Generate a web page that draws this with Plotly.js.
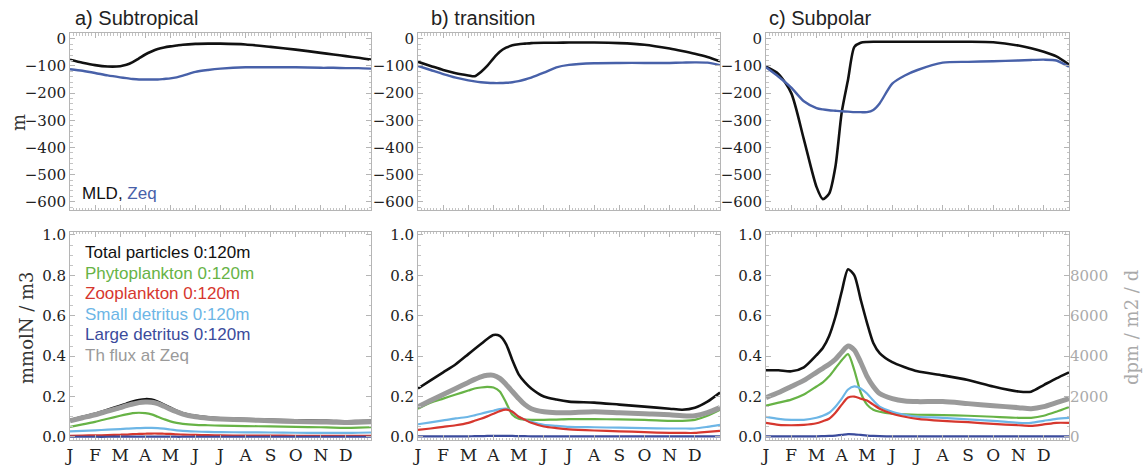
<!DOCTYPE html>
<html>
<head>
<meta charset="utf-8">
<script src="https://cdn.plot.ly/plotly-3.0.1.min.js"></script>
<style>html,body{margin:0;padding:0;background:#fff;}#chart{width:1143px;height:470px;}</style>
</head>
<body>
<div id="chart"></div>
<script>
// month positions (0 = 1 Jan, 12 = end of Dec)
const months = [0,0.5,1,1.5,2,2.25,2.5,2.75,3,3.25,3.5,3.75,4,4.25,4.5,5,5.5,6,7,8,9,10,10.5,11,11.5,12];
const monthTickVals = [0,1,2,3,4,5,6,7,8,9,10,11];
const monthLabels = ["J","F","M","A","M","J","J","A","S","O","N","D"];
const depthTicks = [0,-100,-200,-300,-400,-500,-600];
const concTicks = [0,0.2,0.4,0.6,0.8,1.0];
const fluxTicks = [0,2000,4000,6000,8000];
const panelTitles = ["a) Subtropical","b) transition","c) Subpolar"];
const legendLabels = ["Total particles 0:120m","Phytoplankton 0:120m","Zooplankton 0:120m","Small detritus 0:120m","Large detritus 0:120m","Th flux at Zeq"];

// a) Subtropical
const mldA = [-77,-88,-97,-102,-101,-96,-86,-72,-58,-47,-38,-32,-28,-25,-22,-19,-18,-18,-21,-30,-40,-52,-58,-64,-70,-77];
const zeqA = [-112,-118,-126,-135,-142,-145,-148,-150,-150,-150,-150,-148,-146,-142,-136,-122,-115,-110,-105,-105,-105,-107,-107,-108,-108,-110];
const totA = [0.084,0.1,0.115,0.135,0.155,0.165,0.175,0.183,0.187,0.185,0.175,0.16,0.145,0.13,0.118,0.105,0.097,0.093,0.089,0.085,0.082,0.08,0.079,0.078,0.079,0.08];
const phyA = [0.05,0.062,0.075,0.09,0.105,0.112,0.118,0.12,0.118,0.112,0.1,0.088,0.077,0.07,0.065,0.06,0.058,0.056,0.054,0.052,0.05,0.048,0.046,0.045,0.046,0.048];
const zooA = [0.006,0.007,0.008,0.009,0.011,0.012,0.014,0.015,0.016,0.017,0.017,0.016,0.015,0.013,0.012,0.01,0.009,0.008,0.007,0.007,0.006,0.006,0.006,0.006,0.006,0.006];
const sdA = [0.028,0.03,0.033,0.036,0.039,0.041,0.043,0.044,0.045,0.045,0.044,0.041,0.037,0.033,0.03,0.027,0.025,0.024,0.023,0.022,0.021,0.02,0.02,0.02,0.021,0.022];
const ldA = [0.001,0.001,0.001,0.001,0.002,0.002,0.002,0.002,0.002,0.002,0.002,0.002,0.002,0.001,0.001,0.001,0.001,0.001,0.001,0.001,0.001,0.001,0.001,0.001,0.001,0.001];
const thA = [800,950,1100,1280,1450,1550,1630,1700,1730,1720,1650,1520,1380,1250,1130,1000,930,890,850,800,770,740,730,720,730,750];

// b) transition
const mldB = [-85,-100,-115,-127,-135,-138,-122,-100,-72,-48,-33,-24,-20,-18,-16,-15,-15,-14,-14,-16,-22,-36,-45,-55,-67,-83];
const zeqB = [-100,-115,-130,-143,-153,-157,-160,-162,-163,-163,-162,-160,-156,-150,-143,-125,-105,-96,-90,-89,-89,-89,-88,-87,-88,-97];
const totB = [0.24,0.28,0.32,0.36,0.41,0.435,0.46,0.485,0.505,0.5,0.46,0.38,0.31,0.27,0.24,0.2,0.185,0.175,0.17,0.16,0.15,0.14,0.135,0.145,0.175,0.22];
const phyB = [0.14,0.17,0.19,0.21,0.23,0.24,0.245,0.248,0.245,0.225,0.17,0.11,0.09,0.086,0.085,0.085,0.086,0.088,0.088,0.087,0.085,0.08,0.08,0.085,0.105,0.135];
const zooB = [0.035,0.042,0.05,0.058,0.07,0.08,0.09,0.102,0.115,0.128,0.135,0.125,0.1,0.085,0.07,0.052,0.044,0.038,0.032,0.028,0.024,0.02,0.02,0.02,0.025,0.03];
const sdB = [0.063,0.072,0.082,0.092,0.1,0.107,0.115,0.123,0.13,0.138,0.14,0.125,0.1,0.085,0.075,0.06,0.055,0.05,0.048,0.046,0.044,0.042,0.042,0.042,0.05,0.06];
const ldB = [0.003,0.003,0.003,0.003,0.003,0.004,0.004,0.005,0.005,0.005,0.005,0.005,0.004,0.004,0.003,0.003,0.003,0.003,0.003,0.003,0.003,0.003,0.003,0.003,0.003,0.003];
const thB = [1500,1800,2100,2400,2700,2850,2980,3050,3050,2900,2600,2250,1900,1600,1400,1250,1200,1200,1250,1200,1150,1100,1050,1050,1200,1450];

// c) Subpolar
const mldC = [-103,-130,-200,-370,-545,-590,-570,-470,-270,-150,-30,-15,-12,-11,-11,-11,-11,-11,-11,-11,-13,-25,-35,-48,-65,-95];
const zeqC = [-105,-140,-180,-230,-255,-260,-263,-265,-267,-268,-270,-270,-270,-262,-238,-165,-135,-115,-88,-85,-83,-80,-78,-77,-80,-103];
const totC = [0.33,0.33,0.325,0.345,0.405,0.44,0.5,0.595,0.72,0.83,0.8,0.68,0.565,0.465,0.415,0.37,0.345,0.325,0.305,0.282,0.25,0.225,0.224,0.257,0.29,0.32];
const phyC = [0.155,0.17,0.185,0.21,0.25,0.27,0.3,0.34,0.38,0.41,0.33,0.22,0.16,0.135,0.125,0.115,0.112,0.11,0.108,0.105,0.1,0.095,0.095,0.105,0.125,0.148];
const zooC = [0.07,0.06,0.058,0.06,0.068,0.078,0.09,0.12,0.16,0.195,0.2,0.19,0.18,0.16,0.14,0.115,0.1,0.09,0.08,0.073,0.065,0.058,0.055,0.062,0.07,0.07];
const sdC = [0.1,0.09,0.085,0.085,0.095,0.105,0.12,0.15,0.19,0.235,0.25,0.24,0.215,0.18,0.15,0.125,0.11,0.1,0.095,0.087,0.08,0.07,0.07,0.08,0.09,0.095];
const ldC = [0.003,0.003,0.003,0.003,0.003,0.004,0.005,0.007,0.01,0.014,0.013,0.01,0.007,0.005,0.004,0.003,0.003,0.003,0.003,0.003,0.003,0.003,0.003,0.003,0.003,0.003];
const thC = [1950,2200,2500,2800,3200,3400,3600,3850,4200,4500,4300,3700,3000,2500,2150,1900,1780,1750,1750,1650,1550,1450,1400,1500,1700,1900];

const C = {black:'#111111', green:'#67b346', red:'#d6372e', lblue:'#6db6e6', dblue:'#3b4b9c', gray:'#9a9a9a', zeq:'#4861a9'};

function tr(y, xa, ya, color, width){
  return {x: months, y: y, xaxis: xa, yaxis: ya, mode: 'lines', hoverinfo: 'skip',
          line: {color: color, width: width, shape: 'spline', smoothing: 0.7}};
}

const traces = [
  tr(mldA,'x','y',C.black,2.6), tr(zeqA,'x','y',C.zeq,2.4),
  tr(mldB,'x2','y2',C.black,2.6), tr(zeqB,'x2','y2',C.zeq,2.4),
  tr(mldC,'x3','y3',C.black,2.6), tr(zeqC,'x3','y3',C.zeq,2.4),

  tr(thA,'x4','y7',C.gray,5), tr(totA,'x4','y4',C.black,2.6), tr(phyA,'x4','y4',C.green,2.2),
  tr(sdA,'x4','y4',C.lblue,2.2), tr(zooA,'x4','y4',C.red,2.2), tr(ldA,'x4','y4',C.dblue,2.2),

  tr(thB,'x5','y8',C.gray,5), tr(totB,'x5','y5',C.black,2.6), tr(phyB,'x5','y5',C.green,2.2),
  tr(sdB,'x5','y5',C.lblue,2.2), tr(zooB,'x5','y5',C.red,2.2), tr(ldB,'x5','y5',C.dblue,2.2),

  tr(thC,'x6','y9',C.gray,5), tr(totC,'x6','y6',C.black,2.6), tr(phyC,'x6','y6',C.green,2.2),
  tr(sdC,'x6','y6',C.lblue,2.2), tr(zooC,'x6','y6',C.red,2.2), tr(ldC,'x6','y6',C.dblue,2.2)
];

const FRAME = '#b5b5b5';
const TICKFONT = {family: 'DejaVu Serif', size: 15, color: '#222'};
function base(extra){
  return Object.assign({showline:true, mirror:'ticks', linecolor:FRAME, linewidth:1, ticks:'inside',
    ticklen:5, tickcolor:FRAME, tickwidth:1, zeroline:false, showgrid:false, fixedrange:true,
    tickfont:TICKFONT}, extra);
}
const xDomains = [[70/1143, 371/1143],[418/1143, 720/1143],[766/1143, 1069/1143]];
const yTop = [1-210/470, 1-33.3/470];
const yBot = [1-440/470, 1-231.7/470];

function xax(i, anchor, labels){
  return base({domain:xDomains[i], anchor:anchor, range:[0,12], tickvals:monthTickVals, ticktext:monthLabels,
    showticklabels:labels, tickfont:{family:'DejaVu Serif', size:17, color:'#222'},
    minor:{dtick:0.125, ticks:'inside', ticklen:2.5, tickcolor:'#c4c4c4'}});
}
function ytop(i, anchor){
  return base({domain:yTop, anchor:anchor, range:[-630,20], tickvals:depthTicks,
    minor:{dtick:20, ticks:'inside', ticklen:2.5, tickcolor:'#c4c4c4'}});
}
function ybot(i, anchor){
  return base({domain:yBot, anchor:anchor, range:[-0.015,1.016], tickvals:concTicks, tickformat:'.1f',
    minor:{dtick:0.05, ticks:'inside', ticklen:2.5, tickcolor:'#c4c4c4'}});
}
const fluxRange = [-150, 10160];

const layout = {
  width:1143, height:470, margin:{l:0,r:0,t:0,b:0}, paper_bgcolor:'#fff', plot_bgcolor:'#fff',
  showlegend:false,
  xaxis: xax(0,'y',false), xaxis2: xax(1,'y2',false), xaxis3: xax(2,'y3',false),
  xaxis4: xax(0,'y4',true), xaxis5: xax(1,'y5',true), xaxis6: xax(2,'y6',true),
  yaxis: ytop(0,'x'), yaxis2: ytop(1,'x2'), yaxis3: ytop(2,'x3'),
  yaxis4: ybot(0,'x4'), yaxis5: ybot(1,'x5'), yaxis6: ybot(2,'x6'),
  yaxis7: {overlaying:'y4', anchor:'x4', range:fluxRange, visible:false, fixedrange:true},
  yaxis8: {overlaying:'y5', anchor:'x5', range:fluxRange, visible:false, fixedrange:true},
  yaxis9: {overlaying:'y6', anchor:'x6', side:'right', range:fluxRange, tickvals:fluxTicks,
    showline:false, showgrid:false, zeroline:false, ticks:'inside', ticklen:5, tickcolor:FRAME, fixedrange:true,
    tickfont:{family:'DejaVu Serif', size:15, color:'#aaaaaa'},
    minor:{dtick:500, ticks:'inside', ticklen:2.5, tickcolor:'#c4c4c4'}},
  annotations: []
};

const titleX = [73, 429, 767];
panelTitles.forEach((t,i)=>{
  layout.annotations.push({text:t, xref:'paper', yref:'paper', x:titleX[i]/1143, y:1-18/470,
    xanchor:'left', yanchor:'middle', showarrow:false,
    font:{family:'Liberation Sans, Arial, sans-serif', size:20, color:'#222'}});
});
const legColors = [C.black, C.green, C.red, C.lblue, C.dblue, C.gray];
const legY = [252, 273, 293.5, 314, 334.5, 355];
legendLabels.forEach((t,i)=>{
  layout.annotations.push({text:t, xref:'paper', yref:'paper', x:83/1143, y:1-legY[i]/470,
    xanchor:'left', yanchor:'middle', showarrow:false,
    font:{family:'Liberation Sans, Arial, sans-serif', size:17, color:legColors[i]}});
});
layout.annotations.push({text:'MLD, <span style="color:'+C.zeq+'">Zeq</span>', xref:'paper', yref:'paper',
  x:80/1143, y:1-193/470, xanchor:'left', yanchor:'middle', showarrow:false,
  font:{family:'Liberation Sans, Arial, sans-serif', size:17, color:'#111'}});
layout.annotations.push({text:'m', xref:'paper', yref:'paper', x:18/1143, y:1-123/470, textangle:-90,
  xanchor:'center', yanchor:'middle', showarrow:false, font:{family:'DejaVu Serif', size:18, color:'#333'}});
layout.annotations.push({text:'mmolN / m3', xref:'paper', yref:'paper', x:26/1143, y:1-328/470, textangle:-90,
  xanchor:'center', yanchor:'middle', showarrow:false, font:{family:'DejaVu Serif', size:18, color:'#333'}});
layout.annotations.push({text:'dpm / m2 / d', xref:'paper', yref:'paper', x:1131/1143, y:1-328/470, textangle:-90,
  xanchor:'center', yanchor:'middle', showarrow:false, font:{family:'DejaVu Serif', size:18, color:'#aaaaaa'}});

Plotly.newPlot('chart', traces, layout, {displayModeBar:false, staticPlot:true});
</script>
</body>
</html>
